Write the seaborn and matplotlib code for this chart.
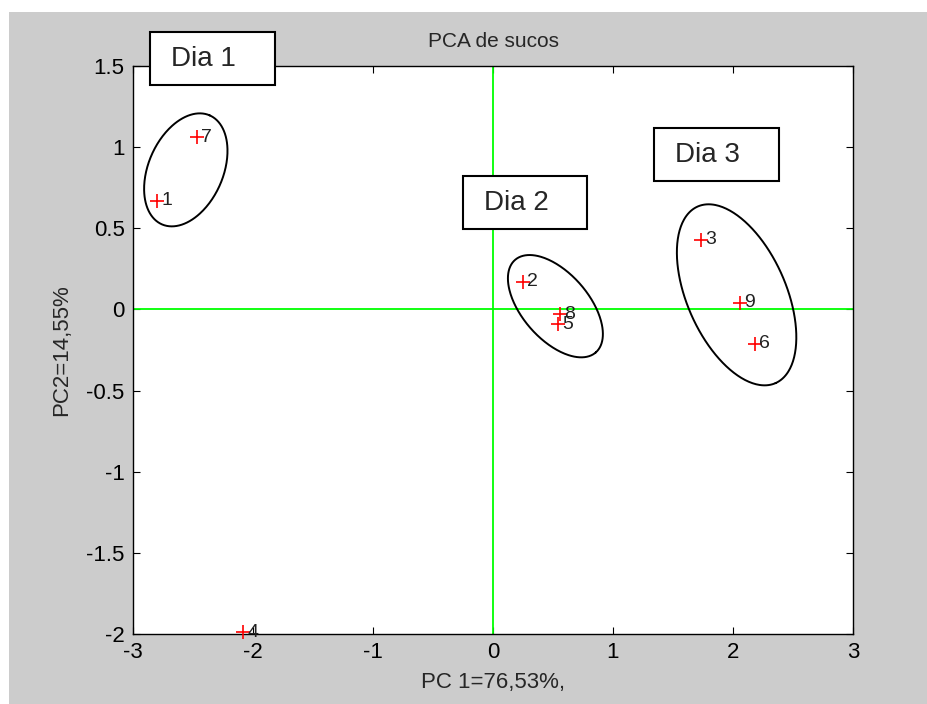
import numpy as np
import pandas as pd
import matplotlib
matplotlib.use("Agg")
import matplotlib.pyplot as plt
from matplotlib.patches import Rectangle
import seaborn as sns

# %%
# scores
labels = ['1', '2', '3', '4', '5', '6', '7', '8', '9']
pc1 = [-2.80, 0.25, 1.73, -2.08, 0.54, 2.18, -2.47, 0.56, 2.06]
pc2 = [0.67, 0.17, 0.43, -1.99, -0.09, -0.21, 1.06, -0.03, 0.04]

# group ellipses: centre in data units, semi-axes in pixels, angle in degrees
ell_cx = [-2.56, 0.52, 2.03]
ell_cy = [0.86, 0.02, 0.09]
ell_a = [59.5, 61.4, 96.5]
ell_b = [37.3, 33.2, 49.5]
ell_ang = [66.3, -48.9, -66.2]

# text boxes (figure pixels: left, top, right, bottom)
box_text = ['Dia 1', 'Dia 2', 'Dia 3']
box_px = [(150, 32, 275, 85), (463, 176, 587, 229), (654, 128, 779, 181)]

xticks = [-3, -2, -1, 0, 1, 2, 3]
yticks = [-2, -1.5, -1, -0.5, 0, 0.5, 1, 1.5]

df = pd.DataFrame({'pc1': pc1, 'pc2': pc2, 'label': labels})

# %%
sns.set_style('ticks')
plt.rcParams['font.family'] = ['Liberation Sans', 'DejaVu Sans']

W, H = 928, 704
fig = plt.figure(figsize=(W / 100, H / 100), dpi=100, facecolor='white')
# grey MATLAB-like figure area
fig.add_artist(Rectangle((9 / W, -0.01), 1, 1.01 - 12 / H, transform=fig.transFigure,
                         facecolor='#cccccc', edgecolor='none', zorder=-1))

ax_l, ax_r, ax_t, ax_b = 133, 853, 66, 634
ax = fig.add_axes([ax_l / W, 1 - ax_b / H, (ax_r - ax_l) / W, (ax_b - ax_t) / H])
ax.set_facecolor('white')

ax.axhline(0, color='#00ff00', lw=1.3, zorder=1)
ax.axvline(0, color='#00ff00', lw=1.3, zorder=1)

sns.scatterplot(data=df, x='pc1', y='pc2', marker='+', color='red', s=110,
                linewidth=1.2, ax=ax, zorder=3, clip_on=False)
for x, y, t in zip(pc1, pc2, labels):
    ax.annotate(t, (x, y), xytext=(3, 0), textcoords='offset points',
                va='center', ha='left', fontsize=14, color='#222222',
                annotation_clip=False)

ax.set_xlim(-3, 3)
ax.set_ylim(-2, 1.5)

# ellipses drawn in pixel space, converted to data units
sx = (ax_r - ax_l) / 6.0
sy = (ax_b - ax_t) / 3.5
t = np.linspace(0, 2 * np.pi, 300)
for cx, cy, a, b, ang in zip(ell_cx, ell_cy, ell_a, ell_b, ell_ang):
    th = np.deg2rad(ang)
    px = a * np.cos(t) * np.cos(th) - b * np.sin(t) * np.sin(th)
    py = a * np.cos(t) * np.sin(th) + b * np.sin(t) * np.cos(th)
    ax.plot(cx + px / sx, cy + py / sy, color='black', lw=1.4, zorder=2)

ax.set_xticks(xticks)
ax.set_xticklabels([str(v) for v in xticks])
ax.set_yticks(yticks)
ax.set_yticklabels(['-2', '-1.5', '-1', '-0.5', '0', '0.5', '1', '1.5'])
ax.tick_params(direction='in', length=5, width=0.8, top=True, right=True,
               labelsize=16, colors='black')
ax.tick_params(axis='x', pad=6)
ax.tick_params(axis='y', pad=6)
for s in ax.spines.values():
    s.set_visible(True)
    s.set_linewidth(1.0)
    s.set_color('black')

ax.set_xlabel('PC 1=76,53%,', fontsize=16, labelpad=6)
ax.set_ylabel('PC2=14,55%', fontsize=16, labelpad=10)
ax.set_title('PCA de sucos', fontsize=15, pad=14)

for txt, (l, tp, r, bt) in zip(box_text, box_px):
    fig.add_artist(Rectangle((l / W, 1 - bt / H), (r - l) / W, (bt - tp) / H,
                             transform=fig.transFigure, facecolor='white',
                             edgecolor='black', lw=1.5, zorder=5))
    fig.text((l + 21) / W, 1 - (tp + bt) / 2 / H, txt, fontsize=20,
             va='center', ha='left', zorder=6)

fig.savefig('out.png', dpi=100, facecolor=fig.get_facecolor())
